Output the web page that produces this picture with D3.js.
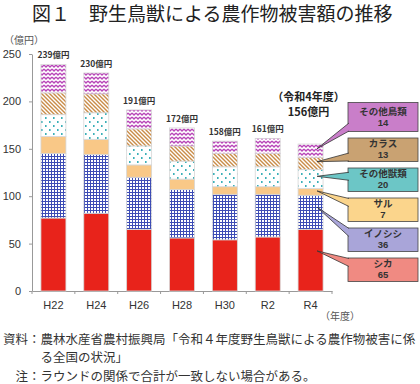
<!DOCTYPE html>
<html>
<head>
<meta charset="utf-8">
<script src="https://cdn.jsdelivr.net/npm/d3@7"></script>
<style>
  body { margin: 0; background: #fff; }
  svg { display: block; font-family: "Noto Sans CJK JP", "Noto Sans", sans-serif; }
</style>
</head>
<body>
<div id="chart"></div>
<script>
// data (億円)
const years = ['H22', 'H24', 'H26', 'H28', 'H30', 'R2', 'R4'];
const shika = [77, 82, 65, 56, 54, 57, 65];
const inoshishi = [68, 62, 55, 51, 48, 45, 36];
const saru = [18, 16, 13, 11, 8, 8, 7];
const sonotaJuurui = [23, 28, 20, 19, 21, 21, 20];
const karasu = [23, 20, 18, 16, 14, 14, 13];
const sonotaChorui = [30, 22, 20, 19, 13, 16, 14];
const totals = [239, 230, 191, 172, 158, 161, 156];
const seriesNames = ['シカ', 'イノシシ', 'サル', 'その他獣類', 'カラス', 'その他鳥類'];
const yTicks = [0, 50, 100, 150, 200, 250];

const seriesValues = [shika, inoshishi, saru, sonotaJuurui, karasu, sonotaChorui];
const fills = ['#e8231b', 'url(#grid)', '#f9c887', 'url(#dots)', 'url(#stripes)', 'url(#zigzag)'];
const boxColors = ['#f08a82', '#a9a5d9', '#fbd58c', '#6cc6c6', '#c9a272', '#c97ec9'];

const svg = d3.select('#chart').append('svg')
  .attr('width', 420)
  .attr('height', 384);

// patterns
const defs = svg.append('defs');
const grid = defs.append('pattern').attr('id', 'grid')
  .attr('patternUnits', 'userSpaceOnUse').attr('width', 3).attr('height', 3);
grid.append('rect').attr('width', 3).attr('height', 3).attr('fill', '#fff');
grid.append('rect').attr('width', 3).attr('height', 1).attr('fill', '#3d4cb5');
grid.append('rect').attr('width', 1).attr('height', 3).attr('fill', '#3d4cb5');

const dots = defs.append('pattern').attr('id', 'dots')
  .attr('patternUnits', 'userSpaceOnUse').attr('width', 8).attr('height', 8);
dots.append('rect').attr('width', 8).attr('height', 8).attr('fill', '#fff');
dots.append('rect').attr('x', 1).attr('y', 1).attr('width', 1.6).attr('height', 2).attr('fill', '#3cb0b8');
dots.append('rect').attr('x', 5).attr('y', 5).attr('width', 1.6).attr('height', 2).attr('fill', '#3cb0b8');

const stripes = defs.append('pattern').attr('id', 'stripes')
  .attr('patternUnits', 'userSpaceOnUse').attr('width', 4).attr('height', 4);
stripes.append('rect').attr('width', 4).attr('height', 4).attr('fill', '#fff');
stripes.append('path').attr('d', 'M-1,-1 L5,5 M-1,3 L1,5 M3,-1 L5,1')
  .attr('stroke', '#c98c48').attr('stroke-width', 1.4);

const zigzag = defs.append('pattern').attr('id', 'zigzag')
  .attr('patternUnits', 'userSpaceOnUse').attr('width', 4).attr('height', 4);
zigzag.append('rect').attr('width', 4).attr('height', 4).attr('fill', '#fff');
zigzag.append('path').attr('d', 'M0,1 L2,3 L4,1')
  .attr('fill', 'none').attr('stroke', '#b845b8').attr('stroke-width', 1.3);

// title
svg.append('text')
  .attr('x', 32).attr('y', 21)
  .attr('font-size', 19).attr('fill', '#222')
  .text('図１　野生鳥獣による農作物被害額の推移');

svg.append('text')
  .attr('x', 4).attr('y', 44)
  .attr('font-size', 10).attr('fill', '#555')
  .text('（億円）');

const x = d3.scaleBand()
  .domain(years)
  .range([32, 332])
  .paddingInner(0.417)
  .paddingOuter(0.2085);

const y = d3.scaleLinear()
  .domain([0, 250])
  .range([291, 54]);

// y axis
const yAxis = svg.append('g')
  .attr('transform', 'translate(32,0)')
  .call(d3.axisLeft(y).tickValues(yTicks).tickSize(3).tickPadding(8).tickSizeOuter(0));
yAxis.select('.domain').attr('stroke', '#999');
yAxis.selectAll('.tick line').attr('stroke', '#999');
yAxis.selectAll('.tick text')
  .attr('font-size', 11).attr('fill', '#333')
  .attr('font-family', 'Liberation Sans, Arial, sans-serif');

// x axis
const xAxis = svg.append('g')
  .attr('transform', 'translate(0,291)')
  .call(d3.axisBottom(x).tickSize(0).tickPadding(10).tickSizeOuter(0));
xAxis.select('.domain').attr('stroke', '#999');
xAxis.selectAll('.tick text')
  .attr('font-size', 11).attr('fill', '#333')
  .attr('font-family', 'Liberation Sans, Arial, sans-serif');
const boundaries = years.map(d => x(d) - x.step() * x.paddingInner() / 2)
  .concat([x(years[years.length - 1]) + x.bandwidth() + x.step() * x.paddingInner() / 2]);
svg.append('g').selectAll('line')
  .data(boundaries)
  .enter().append('line')
  .attr('x1', d => d).attr('x2', d => d)
  .attr('y1', 291).attr('y2', 294)
  .attr('stroke', '#999');

svg.append('text')
  .attr('x', 340).attr('y', 320)
  .attr('text-anchor', 'middle')
  .attr('font-size', 10).attr('fill', '#555')
  .text('（年度）');

// stacked bars
const rows = years.map((yr, i) => {
  const row = { year: yr };
  seriesNames.forEach((s, j) => { row[s] = seriesValues[j][i]; });
  return row;
});
const stack = d3.stack().keys(seriesNames)(rows);

svg.append('g').selectAll('g')
  .data(stack)
  .enter().append('g')
  .attr('fill', (d, i) => fills[i])
  .selectAll('rect')
  .data(d => d)
  .enter().append('rect')
  .attr('x', d => x(d.data.year))
  .attr('y', d => y(d[1]))
  .attr('width', x.bandwidth())
  .attr('height', d => y(d[0]) - y(d[1]))
  .attr('stroke', '#d6d6d6')
  .attr('stroke-width', 0.8);

// total labels
svg.append('g').selectAll('text')
  .data(years.slice(0, -1))
  .enter().append('text')
  .attr('x', d => x(d) + x.bandwidth() / 2)
  .attr('y', (d, i) => y(totals[i]) - 6)
  .attr('text-anchor', 'middle')
  .attr('font-size', 8.5).attr('font-weight', 'bold').attr('fill', '#333')
  .text((d, i) => totals[i] + '億円');

const last = years.length - 1;
const lastX = x(years[last]) + x.bandwidth() / 2 - 2;
svg.append('text')
  .attr('x', lastX).attr('y', 101)
  .attr('text-anchor', 'middle')
  .attr('font-size', 11).attr('font-weight', 'bold').attr('fill', '#222')
  .text('（令和4年度）');
svg.append('text')
  .attr('x', lastX).attr('y', 116)
  .attr('text-anchor', 'middle')
  .attr('font-size', 11).attr('font-weight', 'bold').attr('fill', '#222')
  .text(totals[last] + '億円');

// callouts for R4 (top box = last series)
const boxX = 348, boxW = 70;
const callouts = stack.map((s, j) => {
  const seg = s[last];
  const k = seriesNames.length - 1 - j;
  const bottom = 131.5 + 30 * k;
  const h = k === 0 ? 29 : 23.5;
  const segTop = y(seg[1]);
  const segH = y(seg[0]) - y(seg[1]);
  const tipY = segTop + segH * 0.35;
  const baseY = Math.max(bottom - h + 4.5, Math.min(bottom - 4.5, tipY));
  return { name: seriesNames[j], value: seriesValues[j][last], color: boxColors[j],
           top: bottom - h, h: h, tipY: tipY, baseY: baseY };
});

const cg = svg.append('g').selectAll('g')
  .data(callouts)
  .enter().append('g');

cg.append('rect')
  .attr('x', boxX).attr('y', d => d.top)
  .attr('width', boxW).attr('height', d => d.h)
  .attr('fill', d => d.color)
  .attr('stroke', '#444').attr('stroke-width', 0.8);

cg.append('path')
  .attr('d', d => `M${boxX + 1},${d.baseY - 4} L${x(years[last]) + 19},${d.tipY} L${boxX + 1},${d.baseY + 4}`)
  .attr('fill', d => d.color)
  .attr('stroke', '#333').attr('stroke-width', 0.8);

cg.append('text')
  .attr('x', boxX + boxW / 2)
  .attr('y', d => d.top + d.h / 2 - 2.5)
  .attr('text-anchor', 'middle')
  .attr('font-size', 9.5).attr('font-weight', 'bold').attr('fill', '#333')
  .text(d => d.name);

cg.append('text')
  .attr('x', boxX + boxW / 2)
  .attr('y', d => d.top + d.h / 2 + 8.7)
  .attr('text-anchor', 'middle')
  .attr('font-family', 'Liberation Sans, Arial, sans-serif')
  .attr('font-size', 9.5).attr('font-weight', 'bold').attr('fill', '#333')
  .text(d => d.value);

// footnotes
const notes = svg.append('g').attr('font-size', 12.5).attr('fill', '#333');
notes.append('text').attr('x', 3).attr('y', 343.5)
  .text('資料：農林水産省農村振興局「令和４年度野生鳥獣による農作物被害に係');
notes.append('text').attr('x', 40.5).attr('y', 361.5)
  .text('る全国の状況」');
notes.append('text').attr('x', 15.5).attr('y', 380.5)
  .text('注：ラウンドの関係で合計が一致しない場合がある。');
</script>
</body>
</html>
